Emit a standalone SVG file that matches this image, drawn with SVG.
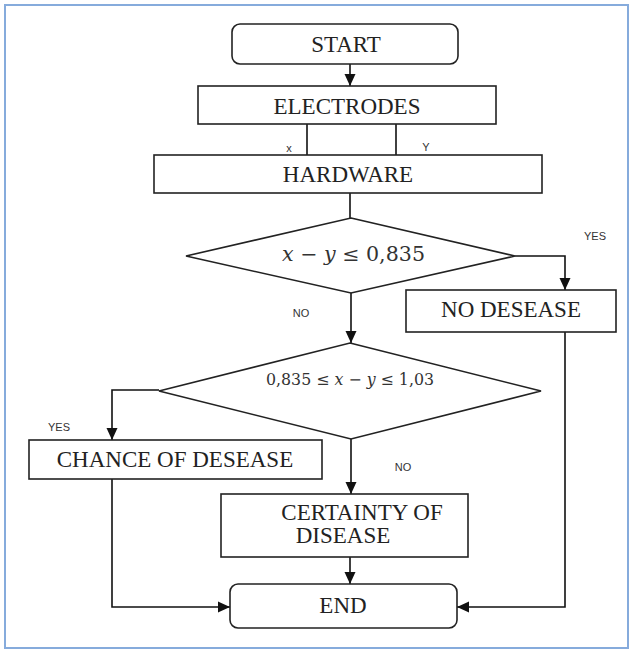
<svg xmlns="http://www.w3.org/2000/svg" width="633" height="653" viewBox="0 0 633 653">
<defs>
<marker id="ah" viewBox="0 0 12 12" refX="12" refY="6" markerWidth="12" markerHeight="12" markerUnits="userSpaceOnUse" orient="auto">
<path d="M0,0.5 L12,6 L0,11.5 Z" fill="#111"/>
</marker>
<style>
.box{fill:#fff;stroke:#222;stroke-width:1.6}
.t{font-family:"Liberation Serif","Times New Roman",serif;font-size:23px;fill:#222;text-anchor:middle}
.m{font-family:"DejaVu Serif","Liberation Serif",serif;fill:#333;text-anchor:middle}
.lbl{font-family:"Liberation Sans",Arial,sans-serif;font-size:11px;fill:#333;text-anchor:middle}
.c{fill:none;stroke:#111;stroke-width:1.6}
</style>
</defs>
<rect width="633" height="653" fill="#fff"/>
<rect x="5" y="5" width="623" height="643" fill="none" stroke="#86abdc" stroke-width="2"/>

<g id="connectors">
<path class="c" d="M350,64 V86" marker-end="url(#ah)"/>
<path class="c" d="M307,124 V155"/>
<path class="c" d="M396,124 V155"/>
<path class="c" d="M350,193 V218"/>
<path class="c" d="M515,256 H565 V290" marker-end="url(#ah)"/>
<path class="c" d="M351,293 V343" marker-end="url(#ah)"/>
<path class="c" d="M159,390 H112 V440" marker-end="url(#ah)"/>
<path class="c" d="M351,439 V494" marker-end="url(#ah)"/>
<path class="c" d="M350,557 V584" marker-end="url(#ah)"/>
<path class="c" d="M112,479 V607 H230" marker-end="url(#ah)"/>
<path class="c" d="M565,332 V607 H457" marker-end="url(#ah)"/>
</g>

<g id="start">
<rect class="box" x="232" y="24" width="226" height="40" rx="8"/>
<text class="t" x="346" y="52">START</text>
</g>
<g id="electrodes">
<rect class="box" x="198" y="86" width="298" height="38"/>
<text class="t" x="347" y="114">ELECTRODES</text>
</g>
<g id="labels-xy">
<text class="lbl" x="289" y="152" font-size="10">x</text>
<text class="lbl" x="426" y="151" font-size="10">Y</text>
</g>
<g id="hardware">
<rect class="box" x="154" y="155" width="388" height="38"/>
<text class="t" x="348" y="182">HARDWARE</text>
</g>
<g id="decision1">
<polygon class="box" points="351,218 515,256 351,293 186,256"/>
<text class="m" x="353.5" y="261" font-size="19.5" textLength="143" lengthAdjust="spacingAndGlyphs"><tspan font-style="italic">x</tspan> − <tspan font-style="italic">y</tspan> ≤ 0,835</text>
</g>
<g id="no-desease">
<rect class="box" x="406" y="290" width="210" height="42"/>
<text class="t" x="511" y="317">NO DESEASE</text>
</g>
<g id="decision2">
<polygon class="box" points="350,343 541,391 351,439 159,391"/>
<text class="m" x="350" y="385" font-size="16" textLength="168" lengthAdjust="spacingAndGlyphs">0,835 ≤ <tspan font-style="italic">x</tspan> − <tspan font-style="italic">y</tspan> ≤ 1,03</text>
</g>
<g id="chance">
<rect class="box" x="29" y="440" width="293" height="39"/>
<text class="t" x="175" y="467">CHANCE OF DESEASE</text>
</g>
<g id="certainty">
<rect class="box" x="221" y="494" width="247" height="63"/>
<text class="t" x="362" y="520">CERTAINTY OF</text>
<text class="t" x="343" y="543">DISEASE</text>
</g>
<g id="end">
<rect class="box" x="230" y="584" width="227" height="44" rx="8"/>
<text class="t" x="343" y="613">END</text>
</g>
<g id="branch-labels">
<text class="lbl" x="595" y="240">YES</text>
<text class="lbl" x="301" y="317">NO</text>
<text class="lbl" x="59" y="431">YES</text>
<text class="lbl" x="403" y="471">NO</text>
</g>
</svg>
